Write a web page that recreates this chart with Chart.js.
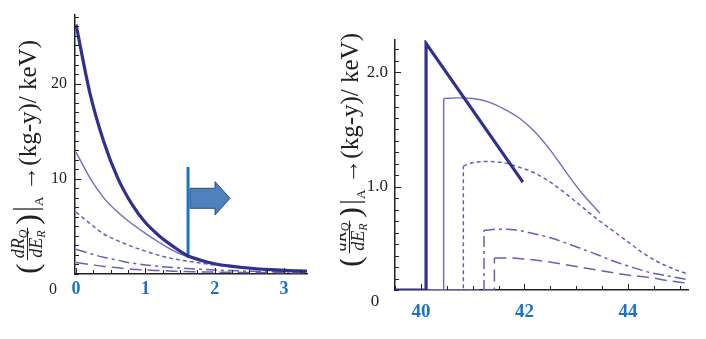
<!DOCTYPE html>
<html>
<head>
<meta charset="utf-8">
<script src="https://cdn.jsdelivr.net/npm/chart.js@4.4.0/dist/chart.umd.min.js"></script>
<style>
  html, body { margin: 0; padding: 0; background: #fff; }
  body { width: 706px; height: 339px; position: relative; overflow: hidden; font-family: "Liberation Serif", serif; }
  canvas { position: absolute; top: 0; }
  #left-chart { left: 0; }
  #right-chart { left: 340px; }
</style>
</head>
<body>
<canvas id="left-chart" width="340" height="339"></canvas>
<canvas id="right-chart" width="366" height="339"></canvas>
<script>
// --- data: left panel (0 .. 3.3 keV) ---
const leftX        = [0, 0.2, 0.4, 0.6, 0.8, 1.0, 1.2, 1.4, 1.6, 1.8, 2.0, 2.2, 2.4, 2.6, 2.8, 3.0, 3.2, 3.33];
const leftThick    = [26.2, 19.0, 13.9, 10.1, 7.4, 5.4, 4.0, 2.9, 1.95, 1.45, 1.08, 0.85, 0.68, 0.55, 0.45, 0.38, 0.33, 0.3];
const leftThin     = [12.8, 10.1, 8.0, 6.5, 5.3, 4.27, 3.31, 2.45, 1.82, 1.35, 1.0, 0.8, 0.63, 0.5, 0.42, 0.35, 0.3, 0.28];
const leftShort    = [6.5, 5.3, 4.2, 3.5, 2.9, 2.4, 1.95, 1.6, 1.35, 1.15, 0.95, 0.8, 0.65, 0.55, 0.45, 0.38, 0.32, 0.3];
const leftDashDot  = [2.6, 2.15, 1.75, 1.45, 1.15, 0.95, 0.8, 0.68, 0.58, 0.5, 0.42, 0.36, 0.32, 0.28, 0.25, 0.22, 0.2, 0.19];
const leftLong     = [1.2, 1.0, 0.8, 0.65, 0.5, 0.42, 0.36, 0.3, 0.26, 0.22, 0.2, 0.18, 0.17, 0.16, 0.15, 0.14, 0.13, 0.13];
const markerX      = [1.615, 1.615];
const markerY      = [1.68, 11.24];
const leftXTicks   = [0, 1, 2, 3];
const leftYTicks   = [10, 20];

// --- data: right panel (39.5 .. 45.2 keV) ---
const thickRightX    = [39.5, 40.1, 40.1, 41.97];
const thickRightY    = [0.1, 0.1, 2.25, 1.04];
const thinRightX     = [40.44, 40.7, 41.0, 41.3, 41.6, 41.9, 42.2, 42.5, 42.8, 43.1, 43.46];
const thinRightY     = [1.77, 1.775, 1.77, 1.74, 1.68, 1.60, 1.48, 1.32, 1.13, 0.95, 0.77];
const shortRightX    = [40.82, 41.0, 41.3, 41.6, 41.9, 42.2, 42.5, 42.8, 43.1, 43.4, 43.7, 44.0, 44.3, 44.6, 44.9, 45.16];
const shortRightY    = [1.18, 1.21, 1.22, 1.21, 1.17, 1.12, 1.04, 0.94, 0.83, 0.72, 0.62, 0.52, 0.42, 0.34, 0.28, 0.24];
const dashDotRightX  = [41.22, 41.5, 41.8, 42.1, 42.5, 42.8, 43.1, 43.4, 43.7, 44.0, 44.4, 44.8, 45.16];
const dashDotRightY  = [0.62, 0.63, 0.625, 0.6, 0.555, 0.51, 0.46, 0.41, 0.355, 0.31, 0.255, 0.22, 0.19];
const longRightX     = [41.42, 41.7, 42.0, 42.4, 42.8, 43.2, 43.6, 44.0, 44.4, 44.8, 45.16];
const longRightY     = [0.38, 0.38, 0.37, 0.35, 0.32, 0.29, 0.26, 0.23, 0.21, 0.18, 0.16];
const rightXTicks    = [40, 42, 44];
const rightYTicks    = [1.0, 2.0];

// --- styles ---
const SERIF = '"Liberation Serif", "Times New Roman", Times, serif';
const AXIS = '#222';
const THICK = '#30308f';
const THIN = '#6e6ebf';
const DASH = '#6262b5';
const MARK = '#1b72c2';
const TICK_BLUE = '#1a73c0';

const toPoints = (xs, ys) => xs.map((x, i) => ({ x, y: ys[i] }));

// inward tick marks, drawn on the axes like Mathematica does
const innerTicks = {
    id: 'innerTicks',
    afterDraw(chart, args, opts) {
        const { ctx, chartArea: a, scales: { x, y } } = chart;
        const isMajor = (v, list) => list.some(m => Math.abs(m - v) < 1e-6);
        ctx.save();
        ctx.strokeStyle = AXIS;
        ctx.lineWidth = 1;
        ctx.beginPath();
        for (let i = 0; ; i++) {
            const v = opts.xFrom + i * opts.xStep;
            if (v > x.max + 1e-9) break;
            if (v < x.min) continue;
            const px = Math.round(x.getPixelForValue(v)) + 0.5;
            const len = isMajor(v, opts.xMajor) ? 6 : 4;
            ctx.moveTo(px, a.bottom);
            ctx.lineTo(px, a.bottom - len);
        }
        for (let i = 0; ; i++) {
            const v = opts.yFrom + i * opts.yStep;
            if (v > y.max + 1e-9) break;
            if (v < y.min) continue;
            const py = Math.round(y.getPixelForValue(v)) + 0.5;
            const len = isMajor(v, opts.yMajor) ? 6 : 4;
            ctx.moveTo(a.left, py);
            ctx.lineTo(a.left + len, py);
        }
        ctx.stroke();
        ctx.restore();
    }
};

// "( dR_Q / dE_R ) |_A →(kg-y)/ keV)" rotated along the y axis
const axisTitle = {
    id: 'axisTitle',
    afterDraw(chart, args, opts) {
        const ctx = chart.ctx;
        const big = `32px ${SERIF}`;
        const frac = `italic 18px ${SERIF}`;
        const sub = `italic 12px ${SERIF}`;
        const subA = `13px ${SERIF}`;
        const main = `25px ${SERIF}`;
        const rest = '→(kg-y)/ keV)';

        ctx.save();
        ctx.font = big;   const wParen = ctx.measureText('(').width;
        ctx.font = frac;  const wDR = ctx.measureText('dR').width, wDE = ctx.measureText('dE').width;
        ctx.font = sub;   const wQ = ctx.measureText('Q').width, wR = ctx.measureText('R').width;
        ctx.font = subA;  const wA = ctx.measureText('A').width;
        ctx.font = main;  const wRest = ctx.measureText(rest).width;
        const wNum = wDR + wQ, wDen = wDE + wR;
        const wFrac = Math.max(wNum, wDen) + 4;
        const total = wParen + 3 + wFrac + 3 + wParen + 4 + 4 + wA + 6 + wRest;

        ctx.translate(opts.baseX, opts.midY);
        ctx.rotate(-Math.PI / 2);
        ctx.fillStyle = '#222';
        ctx.strokeStyle = '#222';
        ctx.textBaseline = 'alphabetic';
        let cx = -total / 2;

        ctx.font = big;
        ctx.fillText('(', cx, 2);
        cx += wParen + 3;

        // fraction
        const barY = -9;
        ctx.font = frac;
        const nx = cx + (wFrac - wNum) / 2;
        ctx.fillText('dR', nx, barY - 3);
        ctx.font = sub;
        ctx.fillText('Q', nx + wDR, barY);
        ctx.font = frac;
        const dx = cx + (wFrac - wDen) / 2;
        ctx.fillText('dE', dx, barY + 15);
        ctx.font = sub;
        ctx.fillText('R', dx + wDE, barY + 18);
        ctx.lineWidth = 1;
        ctx.beginPath();
        ctx.moveTo(cx, barY + 0.5);
        ctx.lineTo(cx + wFrac, barY + 0.5);
        ctx.stroke();
        cx += wFrac + 3;

        ctx.font = big;
        ctx.fillText(')', cx, 2);
        cx += wParen + 4;

        ctx.lineWidth = 1.3;
        ctx.beginPath();
        ctx.moveTo(cx + 1, -23);
        ctx.lineTo(cx + 1, 7);
        ctx.stroke();
        cx += 4;

        ctx.font = subA;
        ctx.fillText('A', cx, 7);
        cx += wA + 6;

        ctx.font = main;
        ctx.fillText(rest, cx, 0);
        ctx.restore();
    }
};

// the lone "0" printed at the lower-left corner of each panel
const cornerZero = {
    id: 'cornerZero',
    afterDraw(chart, args, opts) {
        const { ctx, chartArea: a, scales: { y } } = chart;
        ctx.save();
        ctx.font = `${opts.size}px ${SERIF}`;
        ctx.fillStyle = '#222';
        ctx.textAlign = 'center';
        ctx.textBaseline = 'middle';
        const py = opts.atZero ? y.getPixelForValue(0) : a.bottom + opts.dy;
        ctx.fillText('0', a.left + opts.dx, py);
        ctx.restore();
    }
};

// block arrow pointing to the right panel
const blockArrow = {
    id: 'blockArrow',
    afterDatasetsDraw(chart, args, o) {
        const { ctx, scales: { x, y } } = chart;
        const px = v => x.getPixelForValue(v), py = v => y.getPixelForValue(v);
        ctx.save();
        ctx.beginPath();
        ctx.moveTo(px(o.x0), py(o.shaftTop));
        ctx.lineTo(px(o.neck), py(o.shaftTop));
        ctx.lineTo(px(o.neck), py(o.headTop));
        ctx.lineTo(px(o.tip), py(o.mid));
        ctx.lineTo(px(o.neck), py(o.headBottom));
        ctx.lineTo(px(o.neck), py(o.shaftBottom));
        ctx.lineTo(px(o.x0), py(o.shaftBottom));
        ctx.closePath();
        ctx.fillStyle = '#4f81bd';
        ctx.fill();
        ctx.strokeStyle = '#2c4d75';
        ctx.lineWidth = 1;
        ctx.stroke();
        ctx.restore();
    }
};

const lineSet = (data, color, width, dash, curved) => ({
    data,
    borderColor: color,
    borderWidth: width,
    borderDash: dash,
    pointRadius: 0,
    fill: false,
    tension: 0,
    cubicInterpolationMode: curved ? 'monotone' : 'default'
});

const buildScales = (cfg) => ({
    x: {
        type: 'linear',
        min: cfg.xMin,
        max: cfg.xMax,
        afterBuildTicks: s => { s.ticks = cfg.xTicks.map(v => ({ value: v })); },
        afterFit: s => { s.height = cfg.xHeight; s.paddingLeft = 0; s.paddingRight = 0; },
        grid: { display: false, drawTicks: false },
        border: { display: true, color: AXIS, width: 1.5 },
        ticks: {
            color: TICK_BLUE,
            padding: cfg.xPad,
            maxRotation: 0,
            font: { family: SERIF, size: cfg.xFont, weight: 'bold' },
            callback: v => String(v)
        }
    },
    y: {
        type: 'linear',
        min: cfg.yMin,
        max: cfg.yMax,
        afterBuildTicks: s => { s.ticks = cfg.yTicks.map(v => ({ value: v })); },
        afterFit: s => { s.width = cfg.yWidth; s.paddingTop = 0; s.paddingBottom = 0; },
        grid: { display: false, drawTicks: false },
        border: { display: true, color: AXIS, width: 1.5 },
        ticks: {
            color: '#222',
            padding: cfg.yPad,
            font: { family: SERIF, size: cfg.yFont },
            callback: cfg.yFormat
        }
    }
});

const baseOptions = {
    responsive: false,
    animation: false,
    devicePixelRatio: 1,
    events: []
};

const R_X_MIN = 39.5;
const R_Y_MIN = 0.1;
const riseTo = (xs, ys) => [{ x: R_X_MIN, y: R_Y_MIN }, { x: xs[0], y: R_Y_MIN }, { x: xs[0], y: ys[0] }];

const drawCharts = () => {
    // --- left chart ---
    new Chart(document.getElementById('left-chart'), {
        type: 'line',
        data: {
            datasets: [
                lineSet(toPoints(leftX, leftThick), THICK, 3.2, [], true),
                lineSet(toPoints(markerX, markerY), MARK, 3, [], false),
                lineSet(toPoints(leftX, leftThin), THIN, 1.4, [], true),
                lineSet(toPoints(leftX, leftShort), DASH, 1.5, [4, 3], true),
                lineSet(toPoints(leftX, leftDashDot), DASH, 1.5, [11, 4, 3, 4], true),
                lineSet(toPoints(leftX, leftLong), DASH, 1.5, [12, 6], true)
            ]
        },
        options: {
            ...baseOptions,
            layout: { padding: { top: 15, right: 33, left: 0, bottom: 0 } },
            scales: buildScales({
                xMin: -0.015, xMax: 3.33, xTicks: leftXTicks, xHeight: 65, xPad: 5, xFont: 18,
                yMin: 0, yMax: 27.2, yTicks: leftYTicks, yWidth: 75, yPad: 8, yFont: 16,
                yFormat: v => String(v)
            }),
            plugins: {
                legend: { display: false },
                tooltip: { enabled: false },
                innerTicks: { xFrom: 0, xStep: 0.25, xMajor: leftXTicks, yFrom: 0, yStep: 1, yMajor: leftYTicks },
                axisTitle: { baseX: 36, midY: 157 },
                cornerZero: { size: 16, dx: -22, dy: 16, atZero: false },
                blockArrow: { x0: 1.644, neck: 2.004, tip: 2.22, shaftTop: 9.0, shaftBottom: 6.9, headTop: 9.7, headBottom: 6.2, mid: 7.95 }
            }
        },
        plugins: [innerTicks, axisTitle, cornerZero, blockArrow]
    });

    // --- right chart ---
    new Chart(document.getElementById('right-chart'), {
        type: 'line',
        data: {
            datasets: [
                lineSet(toPoints(thickRightX, thickRightY), THICK, 3.2, [], false),
                lineSet(riseTo(thinRightX, thinRightY), THIN, 1.4, [], false),
                lineSet(toPoints(thinRightX, thinRightY), THIN, 1.4, [], true),
                lineSet(riseTo(shortRightX, shortRightY), DASH, 1.5, [4, 3], false),
                lineSet(toPoints(shortRightX, shortRightY), DASH, 1.5, [4, 3], true),
                lineSet(riseTo(dashDotRightX, dashDotRightY), DASH, 1.5, [11, 4, 3, 4], false),
                lineSet(toPoints(dashDotRightX, dashDotRightY), DASH, 1.5, [11, 4, 3, 4], true),
                lineSet(riseTo(longRightX, longRightY), DASH, 1.5, [12, 6], false),
                lineSet(toPoints(longRightX, longRightY), DASH, 1.5, [12, 6], true)
            ]
        },
        options: {
            ...baseOptions,
            layout: { padding: { top: 40, right: 18, left: 0, bottom: 0 } },
            scales: buildScales({
                xMin: R_X_MIN, xMax: 45.16, xTicks: rightXTicks, xHeight: 49, xPad: 11, xFont: 19,
                yMin: R_Y_MIN, yMax: 2.28, yTicks: rightYTicks, yWidth: 55, yPad: 7, yFont: 17,
                yFormat: v => v.toFixed(1)
            }),
            plugins: {
                legend: { display: false },
                tooltip: { enabled: false },
                innerTicks: { xFrom: 39.5, xStep: 0.5, xMajor: rightXTicks, yFrom: 0.1, yStep: 0.1, yMajor: rightYTicks },
                axisTitle: { baseX: 18, midY: 150 },
                cornerZero: { size: 17, dx: -20, atZero: true }
            }
        },
        plugins: [innerTicks, axisTitle, cornerZero]
    });
};

// make sure the serif face is ready before the canvas text is drawn
Promise.all([
    document.fonts.load(`16px ${SERIF}`),
    document.fonts.load(`bold 18px ${SERIF}`),
    document.fonts.load(`italic 18px ${SERIF}`)
]).then(drawCharts, drawCharts);
</script>
</body>
</html>
